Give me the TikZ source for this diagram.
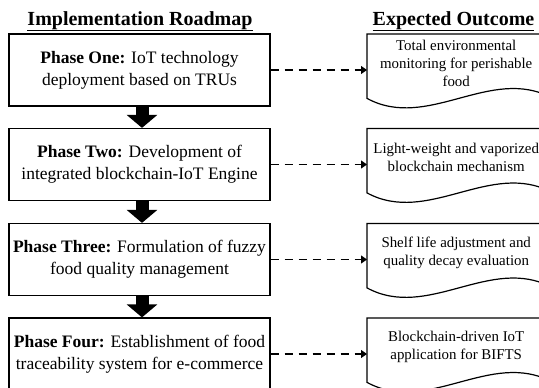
\documentclass[tikz,border=0pt]{standalone}
\usepackage{fontspec}
\setmainfont{Liberation Serif}
\usetikzlibrary{arrows.meta,calc}
\begin{document}
\begin{tikzpicture}[x=1pt,y=-1pt,
  phase/.style={draw,line width=1.2pt,minimum width=261pt,minimum height=72pt,inner sep=0pt,align=center,font=\fontsize{17.5}{22}\selectfont},
  doctext/.style={anchor=north west,minimum width=178pt,minimum height=58pt,inner sep=0pt,align=center,font=\fontsize{14.9}{18}\selectfont},
  docline/.style={line width=1.2pt},
  heading/.style={font=\fontsize{20}{24}\selectfont\bfseries,anchor=base},
  bigarrow/.style={line width=13pt,-{Triangle[length=13pt,width=30pt]}},
  dasharrow/.style={line width=1.2pt,dash pattern=on 8pt off 6pt,-{Triangle[length=6pt,width=8pt]}}]
\useasboundingbox (0,0) rectangle (539,388);
\clip (0,0) rectangle (539,388);
\fill[white] (0,0) rectangle (539,388);

\node[heading] (h1) at (140,25) {\underline{Implementation Roadmap}};
\node[heading] (h2) at (453.5,25) {\underline{Expected Outcome}};

\node[phase] (p1) at (139.5,70) {\textbf{Phase One:} IoT technology\\deployment based on TRUs};
\node[phase] (p2) at (139.5,164.5) {\textbf{Phase Two:} Development of\\integrated blockchain-IoT Engine};
\node[phase] (p3) at (139.5,259.5) {\textbf{Phase Three:} Formulation of fuzzy\\food quality management};
\node[phase] (p4) at (139.5,354) {\textbf{Phase Four:} Establishment of food\\traceability system for e-commerce};

\node[doctext] (o1) at (367,34) {Total environmental\\monitoring for perishable\\food};
\node[doctext] (o2) at (367,128.5) {Light-weight and vaporized\\blockchain mechanism};
\node[doctext] (o3) at (367,223.5) {Shelf life adjustment and\\quality decay evaluation};
\node[doctext] (o4) at (367,318) {Blockchain-driven IoT\\application for BIFTS};

\foreach \o in {o1,o2,o3,o4}{
  \draw[docline] (\o.north west) -- ++(185,0) -- ++(0,64)
    .. controls +(-61,-33) and +(61,33) .. ([yshift=-6pt]\o.south west) -- cycle;
}

\foreach \a/\b in {p1/p2,p2/p3,p3/p4}{
  \draw[bigarrow] ([xshift=2.5pt]\a.south) -- ([xshift=2.5pt]\b.north);
}

\foreach \p/\o in {p1/o1,p2/o2,p3/o3,p4/o4}{
  \draw[dasharrow] (\p.east) -- (\p.east -| \o.west);
}
\end{tikzpicture}
\end{document}
